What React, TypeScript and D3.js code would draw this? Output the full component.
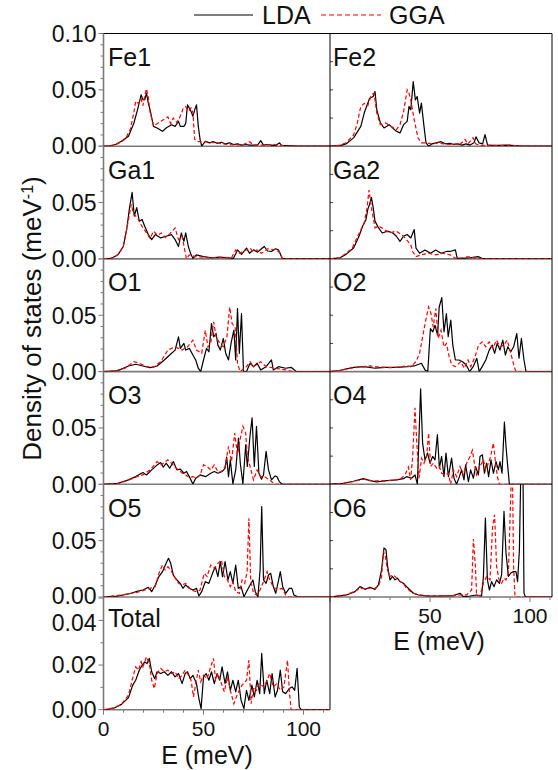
import React from "react";
import * as d3 from "d3";

type P = [number, number];

// ---------------- data (E in meV, DOS in meV^-1) ----------------
const fe1LDA: P[] = [[0,0],[3,0.0003],[6,0.0015],[8.96,0.0044],[12.5,0.0088],[15.2,0.0206],[17,0.0323],[18.8,0.0456],[19.7,0.0412],[20.6,0.0412],[21.5,0.047],[22.4,0.0382],[23.3,0.0323],[25,0.0176],[26.8,0.0162],[29.5,0.0132],[31.3,0.0162],[34,0.0191],[35.8,0.0176],[37.5,0.022],[38.4,0.0176],[40.2,0.0176],[41.1,0.02],[42,0.0367],[42.9,0.0338],[43.8,0.0308],[44.7,0.0265],[45.6,0.0323],[46.5,0.0367],[47.4,0.0176],[48.3,0.0059],[49.1,0],[50.9,0.0044],[53,0.003],[55,0.004],[57,0.0025],[59,0.0035],[61,0.002],[63,0.003],[65,0.0015],[67,0.002],[69,0.001],[71,0.0015],[73,0.001],[75,0.001],[77,0.001],[78.6,0.005],[80,0.001],[82,0.0015],[84,0.001],[86,0.0005],[88,0.003],[89,0.0008],[92,0.0005],[96,0]];
const fe1GGA: P[] = [[0,0],[5,0.0005],[8,0.003],[10.8,0.006],[13.4,0.015],[15.2,0.03],[16.1,0.04],[17.5,0.038],[18.8,0.042],[19.7,0.036],[20.6,0.045],[21.5,0.051],[22.4,0.043],[23.3,0.03],[25,0.018],[26.8,0.02],[28.6,0.022],[30.4,0.024],[32.2,0.026],[33.6,0.02],[34.9,0.025],[36.7,0.021],[38.5,0.027],[39.7,0.033],[41.1,0.035],[42.5,0.031],[43.8,0.034],[44.7,0.03],[45.6,0.006],[47.4,0.004],[50,0.004],[53,0.0035],[56,0.003],[60,0.002],[63,0.0015],[66,0.001],[70,0.0015],[73,0.004],[75,0.001],[80,0.001],[85,0.0015],[90,0.0005],[95,0]];

const fe2LDA: P[] = [[0,0],[5,0.0005],[8,0.002],[11.8,0.0074],[15.4,0.0176],[17.1,0.0294],[19.8,0.0426],[21.6,0.0441],[22.5,0.0485],[23.4,0.0323],[25.2,0.0206],[27,0.0162],[29.6,0.0191],[31.4,0.0162],[33.2,0.0132],[35,0.0118],[36.8,0.0191],[38.6,0.022],[39.5,0.0353],[40.4,0.0323],[41.6,0.0573],[42.7,0.0411],[43.6,0.0441],[44.8,0.0294],[45.7,0.0382],[47,0.0176],[48,0.003],[49.3,0],[51,0.002],[53,0.003],[55.5,0.004],[58,0.002],[60,0.0025],[62,0.0015],[64,0.002],[66,0.001],[68,0.002],[70,0.001],[72,0.003],[73,0.0083],[74.5,0.003],[76.3,0.002],[77.5,0.0103],[78.8,0.001],[84,0.0008],[88,0.001],[92,0.0005],[96,0]];
const fe2GGA: P[] = [[0,0],[5,0.001],[8,0.003],[11.8,0.01],[13.6,0.02],[15.4,0.0353],[17.1,0.038],[18.9,0.036],[20.7,0.0456],[22,0.047],[23.4,0.0294],[25.2,0.0191],[27.9,0.0206],[30.5,0.0176],[33.2,0.0147],[35,0.0191],[36.8,0.0308],[38.6,0.05],[39.5,0.047],[40.4,0.0411],[42.1,0.0235],[44,0.0074],[45.7,0.003],[48,0.003],[51,0.002],[54,0.003],[57,0.002],[60,0.0015],[63,0.002],[65,0.0015],[67.5,0.006],[69,0.002],[71.5,0.0075],[73,0.002],[75,0.0005],[80,0.001],[85,0.0005],[90,0.001],[95,0]];

const ga1LDA: P[] = [[0,0],[4,0.0005],[7.2,0.0036],[9.9,0.011],[11.6,0.0261],[12.9,0.044],[14.3,0.059],[15.4,0.038],[16.6,0.0455],[17.9,0.0335],[19.3,0.035],[20.6,0.029],[22.4,0.0216],[24.1,0.0171],[25.9,0.0216],[28.6,0.0186],[31.3,0.0201],[34,0.0216],[35.8,0.0171],[37.5,0.011],[38.9,0.023],[40.2,0.0156],[41.1,0.023],[42.4,0.011],[43.8,0.0036],[44.7,0.0006],[46.5,0.0036],[50,0.002],[54,0.001],[58,0.0015],[62,0.001],[65,0.0005],[67,0.008],[69,0.004],[71.5,0.0096],[73,0.005],[75,0.008],[77,0.006],[79,0.009],[80.4,0.011],[82,0.007],[84,0.0066],[86,0.009],[87.5,0.008],[89.3,0.0006],[90,0]];
const ga1GGA: P[] = [[0,0],[5,0.001],[8,0.005],[10,0.012],[12,0.03],[13.9,0.0485],[15,0.04],[17,0.0365],[18.5,0.031],[21.5,0.023],[23.3,0.018],[25,0.0246],[27,0.021],[29,0.023],[31,0.019],[33,0.022],[35.8,0.0275],[37.5,0.017],[39.3,0.02],[40.6,0.008],[41.5,0],[42.9,0.0036],[46,0.002],[50,0.0015],[55,0.001],[60,0.0015],[64,0.001],[66.1,0.008],[68,0.005],[73.3,0.0096],[75,0.006],[76.8,0.008],[79,0.005],[82,0.009],[86.3,0.008],[88.5,0.005],[89.5,0]];

const ga2LDA: P[] = [[0,0],[5,0.001],[8,0.004],[11.8,0.0096],[14.5,0.02],[16.3,0.029],[18,0.035],[18.9,0.044],[19.8,0.0485],[20.7,0.0545],[21.6,0.0455],[22.5,0.0335],[24.3,0.0275],[26.1,0.023],[28.8,0.0246],[31.4,0.023],[33.2,0.0201],[35,0.0156],[36.8,0.0201],[38.6,0.0216],[40.4,0.0186],[42.1,0.026],[43,0.0096],[44.8,0.005],[47.5,0.008],[50.2,0.005],[52.9,0.008],[55.5,0.005],[58.2,0.0066],[60,0.0066],[62.7,0.008],[63.6,0.0006],[66,0.0005],[70,0.001],[74,0.002],[76,0.0005],[80,0]];
const ga2GGA: P[] = [[0,0],[5,0.001],[8,0.005],[11,0.009],[13,0.017],[17.1,0.032],[18.5,0.045],[19.5,0.061],[20.7,0.0455],[22.5,0.0275],[24.3,0.029],[26.1,0.0275],[29.6,0.023],[33.2,0.0246],[36.8,0.0201],[40.4,0.0126],[41.3,0.0066],[43,0.002],[45.7,0.0036],[49.3,0.005],[52.9,0.0036],[56.4,0.005],[60,0.0036],[62.7,0.0006],[66,0.0008],[68,0.0015],[70,0.002],[72,0.0008],[78,0]];

const o1LDA: P[] = [[0,0],[5,0.0005],[7.2,0.0009],[12.5,0.005],[16.1,0.0065],[19.7,0.005],[23.3,0.0035],[26.8,0.005],[30.4,0.0103],[33.1,0.0147],[35.8,0.0191],[37.5,0.0309],[38.4,0.0206],[40.2,0.025],[41.1,0.0191],[42.9,0.0206],[44.7,0.0147],[46.1,0.0103],[47.4,0.003],[48.6,0],[50,0.0103],[51.5,0.0206],[52.7,0.0176],[54,0.0426],[55.1,0.0309],[56.3,0.0338],[57.2,0.0235],[58.4,0.0191],[59.9,0.0294],[61.1,0.0162],[62.5,0.0103],[63.9,0.0264],[65.2,0.0367],[66.1,0.0103],[67,0.0559],[67.9,0.0162],[69,0.0514],[70,0],[71.5,0],[73.3,0.0074],[75,0.0044],[76.8,0.0074],[78.6,0.0015],[81.3,0.0044],[84,0.0103],[84.9,0.0015],[87.5,0.0044],[91.1,0.003],[93.8,0.0038],[96.5,0]];
const o1GGA: P[] = [[0,0],[6,0.0008],[10.8,0.003],[15.2,0.0088],[17.9,0.0074],[21.5,0.0044],[25,0.0038],[28.6,0.0088],[32.2,0.0191],[35.8,0.022],[39.3,0.0191],[42,0.022],[44.7,0.0279],[46.5,0.0191],[49.1,0.0162],[50.9,0.0367],[52.2,0.022],[53.6,0.025],[55.1,0.0441],[56.3,0.0309],[58.1,0.025],[59.9,0.022],[61.7,0.0309],[63.1,0.0573],[64.3,0.0426],[65.8,0.0397],[67,0.0074],[68.3,0],[71.5,0.0044],[73.3,0.0088],[75,0.0044],[78.6,0.0088],[81.3,0.0044],[85.8,0.003],[91.1,0.0015],[94.7,0]];

const o2LDA: P[] = [[0,0],[4.6,0.001],[11.8,0.0038],[17.1,0.0044],[22.5,0.003],[27.9,0.0038],[33.2,0.0038],[38.6,0.0044],[42.1,0.005],[45.7,0.0074],[47.5,0.0015],[48.9,0],[50.2,0.0382],[51.4,0.0353],[52.5,0.0411],[53.8,0.0323],[54.6,0.0573],[55.9,0.0656],[57,0.0353],[58.2,0.0514],[59.1,0.0309],[60.4,0.0456],[61.4,0.0235],[62.7,0.0103],[64.5,0.0103],[66.3,0.0088],[68.1,0.0059],[69.8,0],[71.6,0.0044],[73.4,0.0118],[74.6,0],[76.1,0.0044],[77.9,0.0103],[79.6,0.0191],[81.1,0.0235],[82.3,0.0162],[83.6,0.025],[85,0.0191],[86.4,0.0279],[87.7,0.0147],[88.9,0.022],[90.4,0.0176],[91.8,0.022],[93.4,0.0338],[94.5,0.0118],[95.7,0.0294],[97,0.0103],[98,0]];
const o2GGA: P[] = [[0,0],[5,0.001],[10,0.003],[15,0.004],[20,0.005],[25,0.004],[30,0.0035],[35,0.004],[38,0.005],[40.4,0.0044],[43,0.0088],[44.8,0.0162],[46.6,0.0338],[48.4,0.05],[49.3,0.0573],[50.5,0.0514],[51.6,0.0397],[52.9,0.0559],[54.1,0.0294],[55.5,0.0367],[57,0.022],[58.2,0.025],[59.6,0.0132],[60.9,0.0059],[62.7,0.0044],[65.4,0.0088],[67.1,0.003],[69,0.0103],[70.4,0.0044],[72.5,0.0132],[74.3,0.0235],[76.1,0.0264],[77.9,0.022],[79.6,0.0264],[81.4,0.0206],[83.2,0.0279],[85,0.022],[86.8,0.0235],[88.6,0.0279],[90.4,0.0162],[92.1,0.0044],[93,0]];

const o3LDA: P[] = [[0,0],[7.2,0.0009],[12.5,0.0039],[16.1,0.0068],[19.7,0.0104],[21.5,0.0083],[24.1,0.0128],[26.8,0.0172],[28.6,0.0193],[29.9,0.0152],[31.3,0.0187],[33.1,0.0143],[34.9,0.0202],[36.7,0.0128],[38.4,0.0134],[40.2,0.0098],[41.5,0.0113],[42.9,0.0068],[44.7,0.0003],[46.1,0.0054],[48.3,0.0083],[51,0.0068],[53.6,0.0098],[55.4,0.0113],[57.2,0.0098],[59.3,0.0113],[60.8,0.0143],[61.6,0.0241],[62.5,0.0068],[63.4,0.0217],[64.7,0.0003],[66.1,0.0128],[67.5,0.0411],[68.4,0.0187],[69.7,0.0003],[71.1,0.0351],[71.9,0.0158],[73.3,0.044],[74.3,0.0589],[75.4,0.0158],[76.5,0.0515],[77.7,0.0098],[79,0.0045],[80,0.0083],[81.3,0.0292],[82.5,0.0128],[84,0.0039],[85.8,0.0074],[86.7,0.0068],[87.9,0.0024],[89.3,0]];
const o3GGA: P[] = [[0,0],[8,0.001],[13,0.004],[17,0.007],[19.7,0.0083],[23.3,0.0128],[26.8,0.0202],[29,0.0172],[30.8,0.02],[32.2,0.0217],[34,0.0187],[35.8,0.015],[37.5,0.0128],[39.3,0.01],[41.1,0.0083],[42.9,0.006],[44.7,0.0068],[46.5,0.0054],[48.3,0.0083],[50,0.0172],[51.8,0.0158],[53.6,0.0128],[55.4,0.0172],[57.2,0.011],[59,0.0113],[60.8,0.0158],[62.5,0.0337],[64,0.0202],[65.6,0.0455],[67,0.0262],[68.3,0.0396],[69.7,0.0515],[71.1,0.0455],[71.9,0.0247],[73.3,0.0158],[75,0.0039],[76.8,0.0128],[78.6,0.0068],[80.4,0.0068],[83,0.0039],[85.8,0]];

const o4LDA: P[] = [[0,0],[1.7,0.0003],[6.7,0.0009],[11.7,0.0027],[16.7,0.005],[20,0.0033],[23.3,0.0021],[28.3,0.0033],[33.3,0.0039],[36.7,0.005],[38.3,0.0068],[40.8,0.0054],[42.5,0.0083],[43.7,0],[45.3,0.0848],[46.3,0.0366],[47.5,0.0217],[48.8,0.0277],[50,0.0187],[51.3,0.0247],[52.5,0.0217],[53.7,0.044],[54.7,0.0143],[55.8,0.0247],[57,0.0068],[58,0.0277],[59.2,0.0068],[60.8,0.0232],[62,0.0054],[63.3,0],[64.7,0.0068],[65.8,0.0128],[67,0.0039],[67.8,0.0172],[69.2,0.0024],[70.3,0.0128],[71.7,0.0054],[72.8,0.0158],[74.2,0.0083],[75,0.0247],[76.2,0.0262],[77.2,0.0098],[78.3,0.0187],[79.3,0.0068],[80.5,0.0217],[81.7,0.0098],[83,0.0202],[84.2,0.0128],[85,0.0202],[86,0.0098],[87.2,0.0551],[88,0.0336],[88.8,0.0172],[89.7,0]];
const o4GGA: P[] = [[0,0],[6.7,0.0009],[11.7,0.0024],[16.7,0.0045],[21.7,0.003],[28.3,0.003],[35,0.0045],[37.5,0.0083],[39.2,0.0152],[40.3,0.0039],[41.3,0.0232],[42.5,0.0678],[43.3,0.0396],[44.5,0.0054],[45.8,0.0232],[47,0.0187],[48.3,0.0247],[49.3,0.0455],[50.3,0.0158],[51.7,0.0187],[53.3,0.0143],[54.7,0.0158],[55.8,0.0098],[57.5,0.0083],[59.2,0.0098],[60.3,0],[61.7,0.0128],[63.3,0.0068],[65,0.0158],[66.7,0.0083],[68.3,0.0187],[70,0.0247],[71.2,0.0301],[72.2,0.0187],[73.3,0.0083],[75,0.0158],[76.7,0.0217],[77.8,0.0128],[79.2,0.0187],[80.3,0.0247],[81.7,0.0366],[82.7,0.0202],[83.7,0.0068],[84.7,0]];

const o5LDA: P[] = [[0,0],[7.2,0.0009],[12.5,0.0027],[16.1,0.0047],[19.7,0.0062],[22.4,0.0086],[24.1,0.0047],[25.9,0.0107],[27.7,0.0181],[29.5,0.0225],[31.3,0.0299],[32.5,0.0343],[33.6,0.0299],[34.9,0.0195],[36.7,0.0151],[38.4,0.0121],[39.7,0.0077],[41.1,0.0107],[42.9,0.0077],[44.7,0.0062],[46.5,0.0077],[47.7,0.0009],[49.1,0.0047],[50.9,0.0136],[52.7,0.0121],[54.5,0.021],[55.9,0.0269],[57.2,0.0181],[58.4,0.0314],[59.5,0.0181],[60.8,0.0314],[62.2,0.0151],[63.4,0.0225],[64.7,0.0121],[66.1,0.0284],[67.4,0.0077],[68.8,0.0092],[70.2,0.0003],[71.5,0.0047],[73.3,0.0107],[74.7,0.0151],[75.9,0.0047],[77.2,0.0003],[78.3,0.024],[79.1,0.0802],[80,0.0151],[81.3,0.0121],[82.5,0.0195],[83.6,0.021],[84.9,0.0092],[86.1,0.0033],[87.2,0.0121],[88.4,0.0225],[89.6,0.0092],[91.1,0.0033],[92.9,0.0077],[94.2,0.0077],[95.2,0.0018],[97.4,0]];
const o5GGA: P[] = [[0,0],[9,0.0018],[16.1,0.0038],[19.7,0.0056],[23.3,0.0077],[25.9,0.0092],[27.7,0.021],[29.5,0.0284],[30.8,0.024],[32.2,0.0269],[33.6,0.024],[35.4,0.0181],[37.5,0.0121],[39.3,0.0107],[41.1,0.0121],[43.8,0.0062],[46.5,0.0047],[48.3,0.0062],[49.1,0.0121],[50.4,0.021],[51.8,0.0181],[53.6,0.0284],[55.4,0.0255],[57.2,0.0299],[59,0.0328],[60.4,0.0181],[61.6,0.0166],[63.4,0.0092],[64.7,0.0136],[66.1,0.0047],[67.9,0.0033],[69.3,0.0151],[70.6,0.0121],[71.8,0.0225],[72.7,0.0699],[73.6,0.0151],[75,0.0033],[76.5,0.0018],[78.3,0.0062],[80,0.0136],[81.8,0.0225],[83.1,0.0151],[84.9,0.0092],[86.7,0.0062],[89.3,0.0077],[91.1,0.0018],[92.9,0]];

const o6LDA: P[] = [[0,0],[1.7,0.0003],[8.3,0.0018],[12.5,0.0048],[15,0.0092],[17.5,0.0068],[20,0.0086],[22.5,0.0068],[24.2,0.0107],[25.8,0.0241],[27,0.0435],[28,0.042],[28.8,0.0271],[30,0.0152],[31.3,0.0182],[32.5,0.0152],[33.7,0.0167],[35,0.0137],[36.7,0.0122],[38.3,0.0092],[40,0.0062],[41.7,0.0033],[44.2,0.0018],[48.3,0.0009],[55,0.0009],[61.7,0.0012],[65,0.0033],[66.7,0.0003],[70,0.0009],[73.3,0.0018],[75.8,0.0009],[76.7,0.0182],[77.7,0.0699],[78.7,0.0152],[79.7,0.0062],[80.8,0.0137],[82,0.0092],[83.3,0.0152],[84.7,0.0122],[85.8,0.0196],[87,0.0759],[88,0.039],[89.2,0.0182],[90.3,0.0211],[91.7,0.0226],[93,0.0226],[93.8,0.0137],[94.7,0.042],[95.6,0.13],[96.4,0.13],[97,0.0033],[97.8,0]];
const o6GGA: P[] = [[0,0],[8,0.002],[12.5,0.005],[15,0.0077],[17.5,0.0075],[20,0.008],[22.5,0.0075],[24.5,0.011],[25.8,0.0182],[26.7,0.0405],[27.7,0.036],[28.7,0.0241],[30,0.0182],[31.7,0.0196],[33.3,0.0167],[35,0.014],[37,0.011],[38.3,0.0077],[41,0.004],[44,0.002],[50,0.001],[55,0.0012],[60,0.001],[65,0.0018],[68.3,0.0018],[70.8,0.0062],[71.7,0.0515],[72.7,0.0271],[73.3,0.0018],[75,0.0009],[76.7,0.0122],[78.3,0.0182],[80,0.0152],[81.3,0.0627],[82.3,0.0729],[83.3,0.0271],[84.5,0.0152],[85.8,0.0122],[87,0.0167],[88,0.0152],[89.2,0.0211],[90.2,0.08],[91.1,0.13],[91.8,0.0271],[92.5,0]];

const totLDA: P[] = [[0,0],[1.8,0.00015],[5.4,0.00075],[9,0.0024],[12.5,0.0054],[14.6,0.011],[16.1,0.0132],[17.9,0.0177],[19.3,0.0199],[20.6,0.0214],[21.8,0.0207],[22.9,0.023],[24.1,0.017],[25.6,0.0139],[26.8,0.017],[28.6,0.0162],[30.4,0.017],[32.2,0.0154],[34,0.017],[35.8,0.0147],[37.5,0.0162],[39.3,0.0117],[40.8,0.0162],[42,0.017],[43.4,0.0139],[44.7,0.0154],[46.5,0.0117],[47.7,0.005],[48.8,0.0005],[50,0.0147],[51.3,0.0162],[52.7,0.0132],[54,0.017],[55.4,0.0117],[56.8,0.0162],[58.1,0.0132],[59.3,0.0192],[60.8,0.0117],[62,0.017],[63.4,0.0087],[64.7,0.0132],[66.1,0.008],[67.4,0.0132],[68.8,0.0042],[70.2,0.0005],[71.5,0.0087],[72.7,0.0042],[74.2,0.011],[75.4,0.0057],[76.8,0.0132],[78.1,0.0072],[79.1,0.0252],[80.4,0.0072],[81.6,0.0132],[83.1,0.0072],[84.3,0.0162],[85.8,0.0057],[87,0.0087],[88.4,0.0177],[89.6,0.008],[91.1,0.0072],[92.9,0.0095],[94.3,0.0102],[95.6,0.0087],[96.8,0.0185],[97.9,0.0012],[98.8,0]];
const totGGA: P[] = [[0,0],[5,0.0008],[9,0.0025],[12.5,0.0065],[14.3,0.0132],[16.1,0.0192],[17.5,0.0177],[18.8,0.0215],[19.7,0.0192],[21.5,0.0237],[22.9,0.0207],[24.1,0.0132],[25.4,0.0095],[26.8,0.0162],[28.6,0.0185],[30.4,0.017],[32.2,0.0177],[34,0.0162],[35.8,0.017],[37.5,0.0139],[39.3,0.0154],[40.8,0.0177],[42,0.0162],[43.8,0.0132],[45,0.0057],[46.1,0.0117],[47.4,0.0177],[48.6,0.0125],[50,0.0154],[51.8,0.0139],[53.6,0.0192],[55,0.023],[56,0.0132],[57.2,0.0162],[59,0.0117],[60.4,0.008],[62,0.0147],[63.4,0.0087],[65.2,0.0027],[66.4,0.0057],[67.9,0.0087],[69.3,0.011],[71.5,0.0132],[72.7,0.0222],[73.8,0.0027],[75,0.0102],[76.5,0.0087],[77.7,0.0117],[80.4,0.0102],[83.1,0.0162],[84.9,0.0102],[86.7,0.0117],[88.4,0.0087],[90.2,0.0102],[92,0.0222],[92.9,0.0087],[93.8,0]];

const leftNames = ["Fe1", "Ga1", "O1", "O3", "O5", "Total"];
const rightNames = ["Fe2", "Ga2", "O2", "O4", "O6"];
const leftLDA = [fe1LDA, ga1LDA, o1LDA, o3LDA, o5LDA, totLDA];
const leftGGA = [fe1GGA, ga1GGA, o1GGA, o3GGA, o5GGA, totGGA];
const rightLDA = [fe2LDA, ga2LDA, o2LDA, o4LDA, o6LDA];
const rightGGA = [fe2GGA, ga2GGA, o2GGA, o4GGA, o6GGA];
const xTickLeft = [0, 50, 100];
const xTickRight = [50, 100];
const legendLabels = ["LDA", "GGA"];

// ---------------- layout ----------------
const W = 558, H = 770;
const TOP = 33.5, ROW = 112.7;
const LX0 = 103.5, MID = 330, RX1 = 552;
const FONT = "'Liberation Sans', Arial, Helvetica, sans-serif";
const AXIS = "#7a7a7a";

const xLeft = d3.scaleLinear().domain([0, (MID - LX0) / 2]).range([LX0, MID]);
const xRight = d3.scaleLinear().domain([0, (RX1 - MID) / 2]).range([MID, RX1]);

function Panel(props: {
  name: string; lda: P[]; gga: P[]; col: 0 | 1; row: number; yMax: number;
  bottom: boolean; id: string;
}) {
  const { name, lda, gga, col, row, yMax, bottom, id } = props;
  const x = col === 0 ? xLeft : xRight;
  const [x0, x1] = x.range();
  const top = TOP + row * ROW;
  const bot = top + ROW;
  const y = d3.scaleLinear().domain([0, yMax]).range([bot, top]);
  const xMax = x.domain()[1];
  const line = d3.line<P>().x(d => x(d[0])).y(d => y(d[1]));
  const ext = (s: P[]) => (s[s.length - 1][0] < xMax ? [...s, [xMax, 0] as P] : s);
  const isTotal = name === "Total";
  const minor = d3.range(0, yMax + 1e-9, 0.01);
  const majors = isTotal ? [0, 0.02, 0.04] : row === 0 ? [0, 0.05, 0.1] : [0, 0.05];
  const rightTicks = [0.025, 0.05, 0.075];
  const xTicks = col === 0 ? xTickLeft : xTickRight;
  // tiny nudges so neighbouring labels at panel joins do not collide
  const nudge = (v: number) => (isTotal && v === 0.04 ? 2 : !isTotal && v === 0 && row === 4 ? -1 : 0);
  return (
    <g>
      <defs>
        <clipPath id={id}>
          <rect x={x0} y={top} width={x1 - x0} height={ROW} />
        </clipPath>
      </defs>
      <line x1={x0} x2={x1} y1={bot} y2={bot} stroke={AXIS} strokeWidth={1.6} />
      {col === 0 && (
        <g>
          <line x1={x0} x2={x0} y1={top} y2={bot} stroke={AXIS} strokeWidth={1.6} />
          {minor.map((v, i) => {
            const major = Math.abs(v / 0.05 - Math.round(v / 0.05)) < 1e-6 || (isTotal && Math.abs(v / 0.02 - Math.round(v / 0.02)) < 1e-6);
            return (
              <line key={i} x1={x0 - (major ? 5 : 3)} x2={x0} y1={y(v)} y2={y(v)} stroke={AXIS} strokeWidth={1} />
            );
          })}
          {majors.map((v, i) => (
            <text key={i} x={96.5} y={y(v) + nudge(v)} dy="0.36em" textAnchor="end" fontSize={23} fontFamily={FONT} fill="#111">
              {v.toFixed(2)}
            </text>
          ))}
        </g>
      )}
      {col === 1 && rightTicks.map((v, i) => (
        <line key={i} x1={x0} x2={x0 + 3} y1={y(v)} y2={y(v)} stroke="#444" strokeWidth={1} />
      ))}
      {bottom && (
        <g>
          {d3.range(0, xMax + 1e-9, 10).map((v, i) => (
            <line key={i} x1={x(v)} x2={x(v)} y1={bot} y2={bot + (v % 50 === 0 ? 5 : 3)} stroke={AXIS} strokeWidth={1} />
          ))}
          {xTicks.map((v, i) => (
            <text key={i} x={x(v)} y={bot + 26} textAnchor="middle" fontSize={21} fontFamily={FONT} fill="#111">
              {v}
            </text>
          ))}
        </g>
      )}
      <g clipPath={`url(#${id})`}>
        <path d={line(ext(lda)) || ""} fill="none" stroke="#000" strokeWidth={1.2} strokeLinejoin="round" />
        <path d={line(ext(gga)) || ""} fill="none" stroke="#ff0000" strokeWidth={1.2} strokeDasharray="4,2.5" />
      </g>
      <text x={col === 0 ? 108 : 333} y={top + (isTotal ? 30 : 32.3)} fontSize={25} fontFamily={FONT} fill="#111">
        {name}
      </text>
    </g>
  );
}

export default function App() {
  const leftBottom = TOP + 6 * ROW;
  const rightBottom = TOP + 5 * ROW;
  return (
    <svg width={W} height={H} style={{ position: "absolute", left: 0, top: 0, background: "#fff" }}
      xmlns="http://www.w3.org/2000/svg">
      <rect x={0} y={0} width={W} height={H} fill="#fff" />
      <line x1={194} x2={253} y1={15} y2={15} stroke="#000" strokeWidth={1.2} />
      <text x={262} y={24} fontSize={25} fontFamily={FONT} fill="#111">{legendLabels[0]}</text>
      <line x1={321} x2={381} y1={15} y2={15} stroke="#ff0000" strokeWidth={1.2} strokeDasharray="5,3" />
      <text x={389} y={24} fontSize={25} fontFamily={FONT} fill="#111">{legendLabels[1]}</text>

      {leftNames.map((n, i) => (
        <Panel key={n} id={`cl${i}`} name={n} lda={leftLDA[i]} gga={leftGGA[i]} col={0} row={i}
          yMax={n === "Total" ? 0.0505 : 0.1} bottom={i === 5} />
      ))}
      {rightNames.map((n, i) => (
        <Panel key={n} id={`cr${i}`} name={n} lda={rightLDA[i]} gga={rightGGA[i]} col={1} row={i}
          yMax={0.1} bottom={i === 4} />
      ))}

      <line x1={LX0} x2={RX1} y1={TOP} y2={TOP} stroke="#000" strokeWidth={1} />
      <line x1={RX1} x2={RX1} y1={TOP} y2={rightBottom} stroke="#000" strokeWidth={1} />
      <line x1={MID} x2={MID} y1={TOP} y2={leftBottom} stroke="#000" strokeWidth={1} />

      <text x={207} y={763.5} textAnchor="middle" fontSize={25} fontFamily={FONT} fill="#111">E (meV)</text>
      <text x={439} y={650} textAnchor="middle" fontSize={25} fontFamily={FONT} fill="#111">E (meV)</text>
      <text transform="translate(41,318.5) rotate(-90)" textAnchor="middle" fontSize={26} fontFamily={FONT} fill="#111">
        Density of states (meV<tspan baselineShift="super" fontSize={16}>-1</tspan>)
      </text>
    </svg>
  );
}
